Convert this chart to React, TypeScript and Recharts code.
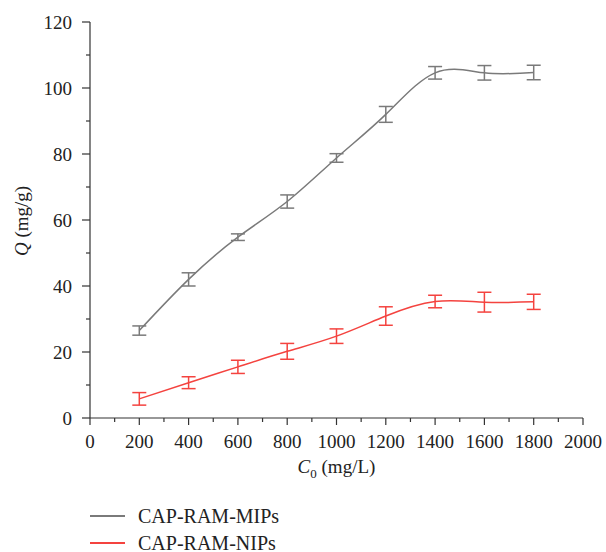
import { LineChart, Line, XAxis, YAxis, ErrorBar } from "recharts";

const c0Values = [200, 400, 600, 800, 1000, 1200, 1400, 1600, 1800];
const mipValues = [26.5, 42.0, 54.8, 65.6, 78.8, 92.0, 104.6, 104.6, 104.7];
const mipErrors = [1.4, 2.0, 1.0, 2.0, 1.3, 2.4, 1.9, 2.2, 2.2];
const nipValues = [5.8, 10.7, 15.5, 20.2, 24.8, 30.9, 35.3, 35.1, 35.2];
const nipErrors = [1.9, 1.8, 2.0, 2.4, 2.2, 2.8, 1.9, 3.0, 2.3];

const xTicks = [0, 100, 200, 300, 400, 500, 600, 700, 800, 900, 1000, 1100, 1200, 1300, 1400, 1500, 1600, 1700, 1800, 1900, 2000];
const yTicks = [0, 10, 20, 30, 40, 50, 60, 70, 80, 90, 100, 110, 120];

const seriesNames = ["CAP-RAM-MIPs", "CAP-RAM-NIPs"];
const seriesColors = ["#7a7a7a", "#f4433f"];

const FONT = "'Liberation Serif', 'Times New Roman', serif";
const AXIS = "#333";

const data = c0Values.map((c0, i) => ({
  c0,
  mip: mipValues[i],
  mipErr: mipErrors[i],
  nip: nipValues[i],
  nipErr: nipErrors[i],
}));

const XTick = ({ x, y, payload }: any) => {
  const major = payload.value % 200 === 0;
  return (
    <g>
      <line x1={x} y1={y} x2={x} y2={y + (major ? 7 : 4)} stroke={AXIS} strokeWidth={1.2} />
      {major && (
        <text x={x} y={y + 30} textAnchor="middle" fontFamily={FONT} fontSize={19} fill="#222">
          {payload.value}
        </text>
      )}
    </g>
  );
};

const YTick = ({ x, y, payload }: any) => {
  const major = payload.value % 20 === 0;
  return (
    <g>
      <line x1={x} y1={y} x2={x - (major ? 8 : 4)} y2={y} stroke={AXIS} strokeWidth={1.2} />
      {major && (
        <text x={x - 18} y={y} textAnchor="end" dominantBaseline="central" fontFamily={FONT} fontSize={19} fill="#222">
          {payload.value}
        </text>
      )}
    </g>
  );
};

const XTitle = ({ viewBox }: any) => {
  const cx = viewBox.x + viewBox.width / 2;
  return (
    <text x={cx} y={viewBox.y + 55} textAnchor="middle" fontFamily={FONT} fontSize={19} fill="#222">
      <tspan fontStyle="italic">C</tspan>
      <tspan fontSize={13} dy={5}>0</tspan>
      <tspan dy={-5}> (mg/L)</tspan>
    </text>
  );
};

const YTitle = () => (
  <text
    x={0}
    y={0}
    transform="translate(28, 221) rotate(-90)"
    textAnchor="middle"
    fontFamily={FONT}
    fontSize={19}
    fill="#222"
  >
    <tspan fontStyle="italic">Q</tspan>
    <tspan> (mg/g)</tspan>
  </text>
);

const App = () => {
  return (
    <div style={{ position: "absolute", left: 0, top: 0, width: 606, height: 552, background: "#fff", overflow: "hidden" }}>
      <LineChart width={606} height={552} data={data} margin={{ top: 22, right: 23, bottom: 94, left: 30 }}>
        <XAxis
          type="number"
          dataKey="c0"
          domain={[0, 2000]}
          ticks={xTicks}
          interval={0}
          height={40}
          stroke={AXIS}
          strokeWidth={1.2}
          tickLine={false}
          tickSize={0}
          tickMargin={0}
          tick={<XTick />}
          label={<XTitle />}
        />
        <YAxis
          type="number"
          domain={[0, 120]}
          ticks={yTicks}
          interval={0}
          width={60}
          stroke={AXIS}
          strokeWidth={1.2}
          tickLine={false}
          tickSize={0}
          tickMargin={0}
          tick={<YTick />}
          label={<YTitle />}
        />
        <Line
          type="natural"
          dataKey="mip"
          name={seriesNames[0]}
          stroke={seriesColors[0]}
          strokeWidth={1.5}
          dot={false}
          isAnimationActive={false}
        >
          <ErrorBar dataKey="mipErr" direction="y" width={7} stroke={seriesColors[0]} strokeWidth={1.5} />
        </Line>
        <Line
          type="natural"
          dataKey="nip"
          name={seriesNames[1]}
          stroke={seriesColors[1]}
          strokeWidth={1.5}
          dot={false}
          isAnimationActive={false}
        >
          <ErrorBar dataKey="nipErr" direction="y" width={7} stroke={seriesColors[1]} strokeWidth={1.5} />
        </Line>
      </LineChart>
      <div style={{ position: "absolute", left: 90, top: 502, fontFamily: FONT, fontSize: 20, lineHeight: "22px", color: "#222" }}>
        {seriesNames.map((name, i) => (
          <div key={name} style={{ display: "flex", alignItems: "center", height: 27 }}>
            <span style={{ display: "inline-block", width: 35, height: 0, borderTop: `2px solid ${seriesColors[i]}`, marginRight: 13 }} />
            <span>{name}</span>
          </div>
        ))}
      </div>
    </div>
  );
};

export default App;
